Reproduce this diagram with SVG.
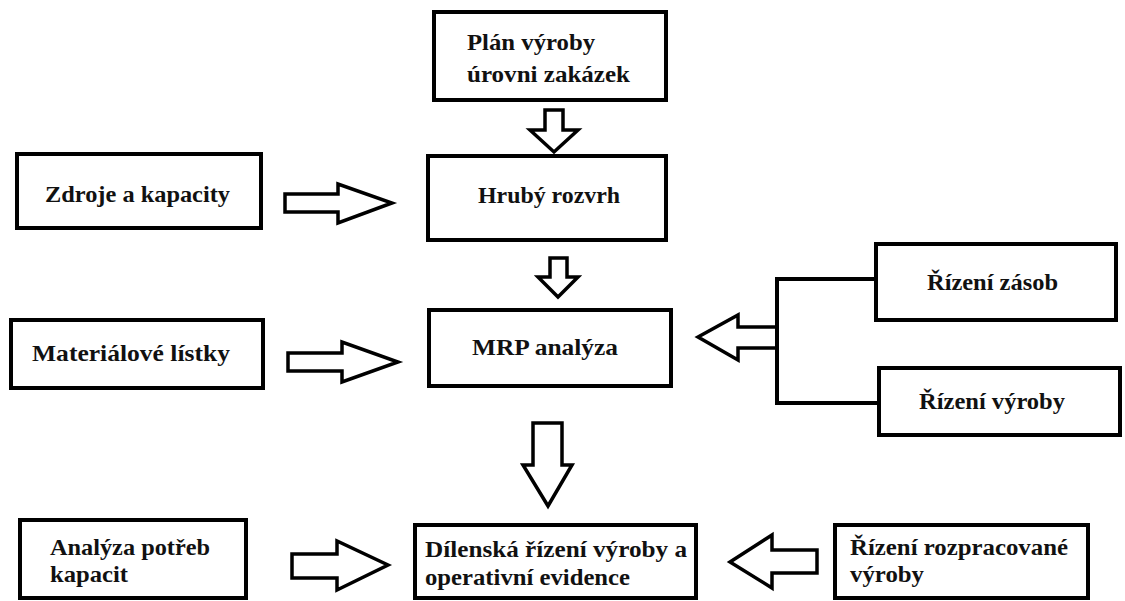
<svg xmlns="http://www.w3.org/2000/svg" width="1125" height="601" viewBox="0 0 1125 601">
  <style>
    .box { fill: #ffffff; stroke: #000000; stroke-width: 4; }
    .arrow { fill: #ffffff; stroke: #000000; stroke-width: 3.5; stroke-linejoin: miter; }
    .link { fill: none; stroke: #000000; stroke-width: 4; }
    .label { font-family: 'Liberation Serif', 'DejaVu Serif', 'Times New Roman', serif; font-weight: bold; font-size: 24px; fill: #111111; }
  </style>
  <rect width="1125" height="601" fill="#ffffff"/>

  <!-- block arrows and the bracket joining the two right-hand boxes -->
  <g id="connectors">
    <path class="arrow" d="M545,110 H563 V130 H578 L554,152 L530,130 H545 Z"/>
    <path class="arrow" d="M550,258 H567 V277 H578 L558,297 L538,277 H550 Z"/>
    <path class="arrow" d="M533,423 H562 V465 H572 L548,506 L523,465 H533 Z"/>
    <path class="arrow" d="M285,194 H338 V184 L392,203 L338,223 V212 H285 Z"/>
    <path class="arrow" d="M288,353 H342 V342 L398,362 L342,382 V371 H288 Z"/>
    <path class="arrow" d="M292,554 H337 V541 L388,565 L337,590 V578 H292 Z"/>
    <path class="arrow" d="M817,550 H772 V535 L730,562 L772,588 V573 H817 Z"/>
    <path class="arrow" d="M777,327 H738 V315 L698,337 L738,360 V348 H777"/>
    <path class="link" d="M874,279 H777 V403 H878"/>
  </g>

  <g id="plan-vyroby">
    <rect class="box" x="434" y="12" width="232" height="88"/>
    <text class="label" x="467" y="50" textLength="128" lengthAdjust="spacingAndGlyphs">Plán výroby</text>
    <text class="label" x="467" y="82" textLength="163" lengthAdjust="spacingAndGlyphs">úrovni zakázek</text>
  </g>

  <g id="zdroje">
    <rect class="box" x="17" y="154" width="244" height="74"/>
    <text class="label" x="45" y="202" textLength="185" lengthAdjust="spacingAndGlyphs">Zdroje a kapacity</text>
  </g>

  <g id="hruby-rozvrh">
    <rect class="box" x="428" y="156" width="238" height="84"/>
    <text class="label" x="478" y="203" textLength="142" lengthAdjust="spacingAndGlyphs">Hrubý rozvrh</text>
  </g>

  <g id="materialove-listky">
    <rect class="box" x="11" y="320" width="252" height="68"/>
    <text class="label" x="32" y="361" textLength="198" lengthAdjust="spacingAndGlyphs">Materiálové lístky</text>
  </g>

  <g id="mrp">
    <rect class="box" x="429" y="310" width="242" height="76"/>
    <text class="label" x="472" y="355" textLength="146" lengthAdjust="spacingAndGlyphs">MRP analýza</text>
  </g>

  <g id="rizeni-zasob">
    <rect class="box" x="876" y="244" width="240" height="76"/>
    <text class="label" x="927" y="290" textLength="131" lengthAdjust="spacingAndGlyphs">Řízení zásob</text>
  </g>

  <g id="rizeni-vyroby">
    <rect class="box" x="879" y="368" width="241" height="67"/>
    <text class="label" x="919" y="409" textLength="146" lengthAdjust="spacingAndGlyphs">Řízení výroby</text>
  </g>

  <g id="analyza-kapacit">
    <rect class="box" x="20" y="520" width="226" height="78"/>
    <text class="label" x="50" y="555" textLength="160" lengthAdjust="spacingAndGlyphs">Analýza potřeb</text>
    <text class="label" x="50" y="582" textLength="78" lengthAdjust="spacingAndGlyphs">kapacit</text>
  </g>

  <g id="dilenske-rizeni">
    <rect class="box" x="415" y="525" width="281" height="73"/>
    <text class="label" x="425" y="557" textLength="262" lengthAdjust="spacingAndGlyphs">Dílenská řízení výroby a</text>
    <text class="label" x="425" y="585" textLength="205" lengthAdjust="spacingAndGlyphs">operativní evidence</text>
  </g>

  <g id="rozpracovana-vyroba">
    <rect class="box" x="835" y="525" width="253" height="73"/>
    <text class="label" x="850" y="555" textLength="218" lengthAdjust="spacingAndGlyphs">Řízení rozpracované</text>
    <text class="label" x="850" y="582" textLength="74" lengthAdjust="spacingAndGlyphs">výroby</text>
  </g>
</svg>
